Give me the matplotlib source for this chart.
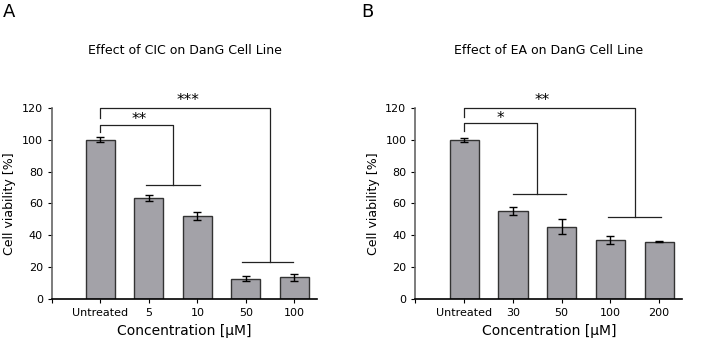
import numpy as np
import matplotlib
matplotlib.use('Agg')
import matplotlib.pyplot as plt

# panel A - CIC
cic_labels = ['Untreated', '5', '10', '50', '100']
cic_mean = [100, 63.5, 52, 12.8, 13.5]
cic_err = [1.5, 2.0, 2.5, 1.5, 2.0]

# panel B - EA
ea_labels = ['Untreated', '30', '50', '100', '200']
ea_mean = [100, 55, 45.5, 37.3, 36]
ea_err = [1.2, 2.5, 4.5, 2.5, 0.5]

fs = 9
bar_col = '#a3a2a8'


def bracket(ax, x0, x1, g0, g1, ytop, yleg, ylow, stars, sx, sy):
    # left leg + top line + drop to the group line
    ax.plot([x0, x0, x1, x1], [yleg, ytop, ytop, ylow], color='#222222', lw=0.9, clip_on=False)
    ax.plot([g0, g1], [ylow, ylow], color='#222222', lw=0.9, clip_on=False)
    ax.text(sx, sy, stars, ha='center', va='center', size=11, clip_on=False)


def panel(ax, labels, mean, err, title):
    x = np.arange(len(labels))
    ax.bar(x, mean, width=0.6, color=bar_col, edgecolor='#333333', linewidth=1.0, zorder=2)
    ax.errorbar(x, mean, yerr=err, fmt='none', ecolor='k', elinewidth=1, capsize=3, capthick=1, zorder=3)
    ax.set_xlim(-1, 4.47)
    ax.set_ylim(0, 120)
    ax.set_yticks([0, 20, 40, 60, 80, 100, 120])
    ax.set_xticks([-1] + list(x))
    ax.set_xticklabels([''] + labels)
    ax.tick_params(labelsize=8, length=3, width=0.8)
    ax.spines['top'].set_visible(False)
    ax.spines['right'].set_visible(False)
    ax.spines['left'].set_color('#666666')
    ax.spines['left'].set_linewidth(1.2)
    ax.spines['bottom'].set_linewidth(1.2)
    ax.set_ylabel('Cell viability [%]', size=fs)
    ax.set_xlabel('Concentration [\u00b5M]', size=10)
    ax.text(0.5, 1.30, title, transform=ax.transAxes, ha='center', va='center', size=fs)


fig = plt.figure(figsize=(7.09, 3.44), dpi=100)
ax1 = fig.add_axes([0.0733, 0.131, 0.374, 0.555])
ax2 = fig.add_axes([0.586, 0.131, 0.376, 0.555])

panel(ax1, cic_labels, cic_mean, cic_err, 'Effect of CIC on DanG Cell Line')
panel(ax2, ea_labels, ea_mean, ea_err, 'Effect of EA on DanG Cell Line')
fig.text(0.004, 0.965, 'A', ha='left', va='center', size=13)
fig.text(0.510, 0.965, 'B', ha='left', va='center', size=13)

bracket(ax1, 0, 1.5, 0.95, 2.05, 109.3, 104.8, 71.4, '**', 0.8, 112.5)
bracket(ax1, 0, 3.5, 2.92, 3.97, 120, 113.7, 23.4, '***', 1.8, 125)
bracket(ax2, 0, 1.5, 1.0, 2.08, 110.5, 105.4, 65.9, '*', 0.75, 113.5)
bracket(ax2, 0, 3.5, 2.95, 4.03, 120, 114.3, 51.4, '**', 1.6, 125)

plt.savefig('out.png', dpi=100)
